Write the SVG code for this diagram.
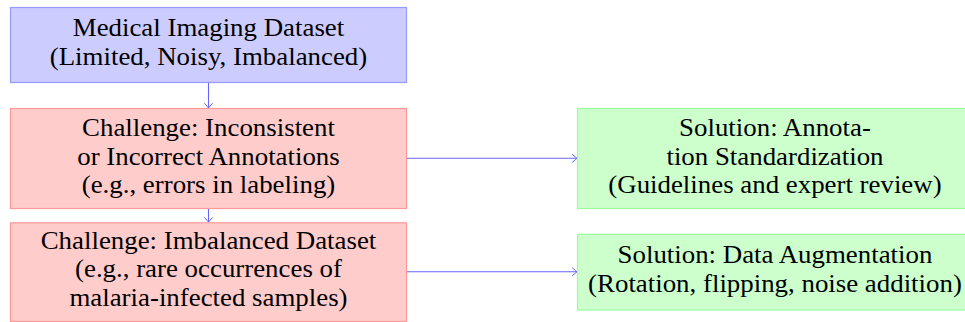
<svg xmlns="http://www.w3.org/2000/svg" width="965" height="322" viewBox="0 0 965 322">
<style>
  .blue{fill:#ccccff;stroke:#9999ff;stroke-width:1.2}
  .red{fill:#ffcccc;stroke:#ff9999;stroke-width:1.2}
  .green{fill:#ccffcc;stroke:#99ff99;stroke-width:1.2}
  .t{font-family:"Liberation Serif","Times New Roman",serif;font-size:25px;fill:#000;text-anchor:middle}
  .c{fill:none;stroke:#6464ff;stroke-width:1.1}
</style>
<defs>
  <marker id="arr" markerUnits="userSpaceOnUse" viewBox="-6 -5 7 10" refX="0" refY="0" markerWidth="7" markerHeight="10" orient="auto">
    <path d="M -4.5 -3.8 Q -1.2 -1 0 0 Q -1.2 1 -4.5 3.8" fill="none" stroke="#6464ff" stroke-width="1" stroke-linecap="round"/>
  </marker>
</defs>
<g id="connectors">
  <line class="c" x1="208.5" y1="82.8" x2="208.5" y2="108" marker-end="url(#arr)"/>
  <line class="c" x1="208.5" y1="208.8" x2="208.5" y2="222.2" marker-end="url(#arr)"/>
  <line class="c" x1="407" y1="158.3" x2="577" y2="158.3" marker-end="url(#arr)"/>
  <line class="c" x1="407" y1="271.8" x2="577" y2="271.8" marker-end="url(#arr)"/>
</g>
<g id="dataset">
  <rect class="blue" x="10.5" y="7.5" width="396" height="75"/>
  <g transform="scale(1.075 1)">
    <text class="t" x="193.95" y="36.3">Medical Imaging Dataset</text>
    <text class="t" x="193.95" y="65.2">(Limited, Noisy, Imbalanced)</text>
  </g>
</g>
<g id="challenge1">
  <rect class="red" x="10.5" y="108.5" width="396" height="100"/>
  <g transform="scale(1.075 1)">
    <text class="t" x="193.95" y="136">Challenge:  Inconsistent</text>
    <text class="t" x="193.95" y="164.6">or Incorrect Annotations</text>
    <text class="t" x="193.95" y="193.2">(e.g., errors in labeling)</text>
  </g>
</g>
<g id="challenge2">
  <rect class="red" x="10.5" y="222.8" width="396" height="98.7"/>
  <g transform="scale(1.075 1)">
    <text class="t" x="193.95" y="248.8">Challenge:  Imbalanced Dataset</text>
    <text class="t" x="193.95" y="277.3">(e.g., rare occurrences of</text>
    <text class="t" x="193.95" y="305.8">malaria-infected samples)</text>
  </g>
</g>
<g id="solution1">
  <rect class="green" x="577.5" y="108.5" width="400" height="100"/>
  <g transform="scale(1.075 1)">
    <text class="t" x="720.9" y="136.2">Solution:  Annota-</text>
    <text class="t" x="720.9" y="164.8">tion Standardization</text>
    <text class="t" x="720.9" y="193.4">(Guidelines and expert review)</text>
  </g>
</g>
<g id="solution2">
  <rect class="green" x="577.5" y="234.3" width="400" height="75.7"/>
  <g transform="scale(1.075 1)">
    <text class="t" x="720.9" y="263.2">Solution:  Data Augmentation</text>
    <text class="t" x="720.9" y="292.2">(Rotation, flipping, noise addition)</text>
  </g>
</g>
</svg>
